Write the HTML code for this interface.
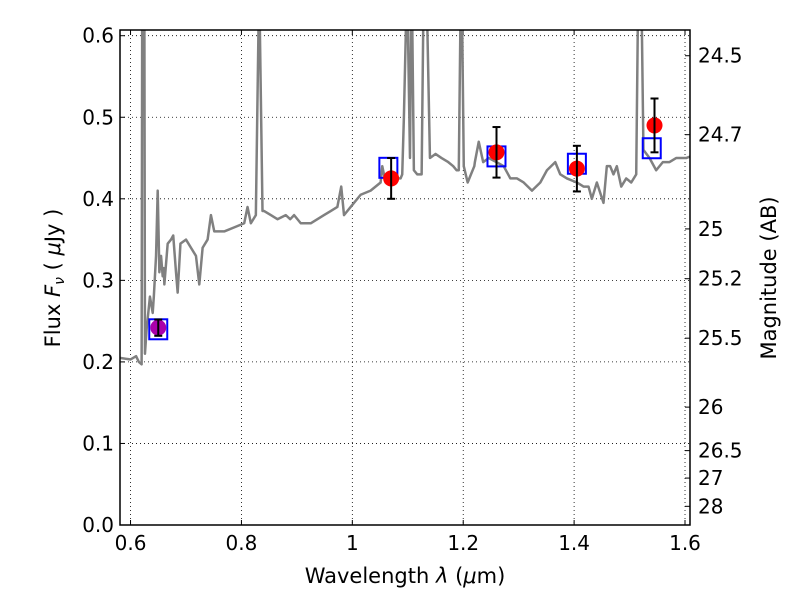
<!DOCTYPE html>
<html><head><meta charset="utf-8"><style>
body{margin:0;background:#fff;width:800px;height:600px;overflow:hidden}
text{font-family:"DejaVu Sans","Liberation Sans",sans-serif;fill:#000}
</style></head><body>
<svg id="chart" width="800" height="600" xmlns="http://www.w3.org/2000/svg"></svg>
<script>
const specWl=[0.58,0.60,0.61,0.615,0.62,0.621,0.623,0.625,0.626,0.629,0.635,0.64,0.642,0.646,0.649,0.652,0.655,0.658,0.66,0.661,0.667,0.673,0.677,0.682,0.685,0.69,0.70,0.709,0.718,0.724,0.73,0.739,0.745,0.751,0.769,0.787,0.805,0.811,0.817,0.826,0.831,0.833,0.838,0.841,0.853,0.865,0.88,0.888,0.895,0.907,0.925,0.937,0.949,0.961,0.973,0.98,0.985,0.997,1.015,1.033,1.051,1.054,1.06,1.075,1.087,1.09,1.093,1.097,1.10,1.104,1.106,1.108,1.111,1.117,1.125,1.128,1.135,1.14,1.15,1.161,1.173,1.182,1.188,1.192,1.195,1.198,1.201,1.208,1.22,1.221,1.228,1.236,1.246,1.26,1.273,1.285,1.297,1.309,1.324,1.339,1.351,1.366,1.375,1.387,1.405,1.417,1.426,1.432,1.441,1.453,1.459,1.465,1.471,1.477,1.485,1.494,1.503,1.512,1.515,1.522,1.525,1.536,1.548,1.56,1.572,1.584,1.595,1.602,1.61];
const specFlux=[0.205,0.203,0.207,0.2,0.197,0.62,0.62,0.62,0.21,0.24,0.28,0.26,0.28,0.33,0.41,0.31,0.33,0.305,0.315,0.295,0.345,0.35,0.355,0.31,0.285,0.345,0.35,0.34,0.33,0.295,0.34,0.35,0.38,0.36,0.36,0.365,0.37,0.39,0.37,0.38,0.62,0.62,0.385,0.385,0.38,0.375,0.38,0.375,0.38,0.37,0.37,0.375,0.38,0.385,0.39,0.415,0.38,0.39,0.405,0.41,0.42,0.44,0.42,0.425,0.425,0.43,0.5,0.62,0.62,0.45,0.62,0.62,0.435,0.43,0.43,0.62,0.62,0.45,0.455,0.45,0.445,0.44,0.435,0.435,0.62,0.62,0.44,0.42,0.44,0.445,0.47,0.445,0.45,0.445,0.44,0.425,0.425,0.42,0.41,0.42,0.435,0.445,0.43,0.425,0.42,0.415,0.415,0.4,0.42,0.395,0.44,0.44,0.43,0.44,0.415,0.425,0.42,0.43,0.62,0.62,0.46,0.45,0.435,0.445,0.445,0.45,0.45,0.45,0.452];
const obsWl=[1.07,1.26,1.405,1.545];
const obsFlux=[0.425,0.457,0.437,0.49];
const obsErr=[0.025,0.031,0.028,0.033];
const magWl=[0.65]; const magFlux=[0.242]; const magErr=[0.01];
const modelWl=[0.65,1.065,1.26,1.405,1.54];
const modelFlux=[0.240,0.438,0.452,0.443,0.462];
const xTicks=[0.6,0.8,1.0,1.2,1.4,1.6];
const xTickLabels=["0.6","0.8","1","1.2","1.4","1.6"];
const yTicks=[0,0.1,0.2,0.3,0.4,0.5,0.6];
const yTickLabels=["0.0","0.1","0.2","0.3","0.4","0.5","0.6"];
const magTicks=[24.5,24.7,25,25.2,25.5,26,26.5,27,28];
const magTickLabels=["24.5","24.7","25","25.2","25.5","26","26.5","27","28"];

const L=120,R=690,T=30,B=525,XMIN=0.581,XMAX=1.609,YMIN=0,YMAX=0.607;
const sx=v=>L+(v-XMIN)/(XMAX-XMIN)*(R-L);
const sy=v=>B-(v-YMIN)/(YMAX-YMIN)*(B-T);
const svg=document.getElementById('chart');
const NS='http://www.w3.org/2000/svg';
function mk(tag,attrs,parent){const e=document.createElementNS(NS,tag);for(const k in attrs)e.setAttribute(k,attrs[k]);(parent||svg).appendChild(e);return e;}
const defs=mk('defs',{});const cp=mk('clipPath',{id:'clip'},defs);mk('rect',{x:L,y:T,width:R-L,height:B-T},cp);
xTicks.forEach((t,i)=>{
 const g=mk('line',{x1:sx(t),x2:sx(t),y1:T,y2:B,stroke:'#000','stroke-width':0.8,'stroke-dasharray':'1,3'});
 
 
 const tk=mk('line',{x1:sx(t),x2:sx(t),y1:B,y2:B-5,stroke:'#000'});
 
 
 const tk2=mk('line',{x1:sx(t),x2:sx(t),y1:T,y2:T+5,stroke:'#000'});
 
 
 const lb=mk('text',{x:sx(t),y:B+25,'font-size':20,'text-anchor':'middle'});lb.textContent=xTickLabels[i];
 
 
});
yTicks.forEach((t,i)=>{
 const g=mk('line',{x1:L,x2:R,y1:sy(t),y2:sy(t),stroke:'#000','stroke-width':0.8,'stroke-dasharray':'1,3'});
 
 
 const tk=mk('line',{x1:L,x2:L+5,y1:sy(t),y2:sy(t),stroke:'#000'});
 
 
 const lb=mk('text',{x:L-6,y:sy(t)+7,'font-size':20,'text-anchor':'end'});lb.textContent=yTickLabels[i];
 
 
});
magTicks.forEach((m,i)=>{
 const f=Math.pow(10,(23.9-m)/2.5);
 const tk=mk('line',{x1:R-5,x2:R,y1:sy(f),y2:sy(f),stroke:'#000'});
 
 
 const lb=mk('text',{x:R+8,y:sy(f)+7,'font-size':20});lb.textContent=magTickLabels[i];
 
 
});
const gp=mk('g',{'clip-path':'url(#clip)'});
const sp=mk('polyline',{points:specWl.map((w,i)=>sx(w)+','+sy(specFlux[i])).join(' '),fill:'none',stroke:'#808080','stroke-width':2.5,'stroke-linejoin':'round'},gp);


function errbar(x,y,e,name){
 const g=mk('g',{});
 
 
 mk('line',{x1:sx(x),x2:sx(x),y1:sy(y-e),y2:sy(y+e),stroke:'#000','stroke-width':2},g);
 mk('line',{x1:sx(x)-4,x2:sx(x)+4,y1:sy(y-e),y2:sy(y-e),stroke:'#000','stroke-width':2},g);
 mk('line',{x1:sx(x)-4,x2:sx(x)+4,y1:sy(y+e),y2:sy(y+e),stroke:'#000','stroke-width':2},g);
}
modelWl.forEach((w,i)=>{
 const r=mk('rect',{x:sx(w)-9,y:sy(modelFlux[i])-10,width:18,height:20,fill:'none',stroke:'#0000ff','stroke-width':2});
 
 
});
magWl.forEach((w,i)=>{
 const c=mk('circle',{cx:sx(w),cy:sy(magFlux[i]),r:8,fill:'#aa00aa'});
 
 
 errbar(w,magFlux[i],magErr[i],'magenta-errorbar');
});
obsWl.forEach((w,i)=>{
 const c=mk('circle',{cx:sx(w),cy:sy(obsFlux[i]),r:8,fill:'#ff0000'});
 
 
 errbar(w,obsFlux[i],obsErr[i],'observed-errorbar');
});
const fr=mk('rect',{x:L,y:T,width:R-L,height:B-T,fill:'none',stroke:'#000','stroke-width':1.5});


const xl=mk('text',{x:405,y:583,'font-size':21,'text-anchor':'middle'});
xl.innerHTML='Wavelength  <tspan font-style="italic">λ</tspan> (<tspan font-style="italic">μ</tspan>m)';


const yl=mk('text',{x:0,y:0,'font-size':21,'text-anchor':'middle','xml:space':'preserve',transform:'translate(60,278) rotate(-90)'});
yl.innerHTML='Flux  <tspan font-style="italic">F</tspan><tspan font-style="italic" font-size="14" dy="4">ν</tspan><tspan dy="-4">   (  </tspan><tspan font-style="italic">μ</tspan>Jy )';


const rl=mk('text',{x:0,y:0,'font-size':21,'text-anchor':'middle',transform:'translate(776,278) rotate(-90)'});
rl.textContent='Magnitude (AB)';


</script>
</body></html>
